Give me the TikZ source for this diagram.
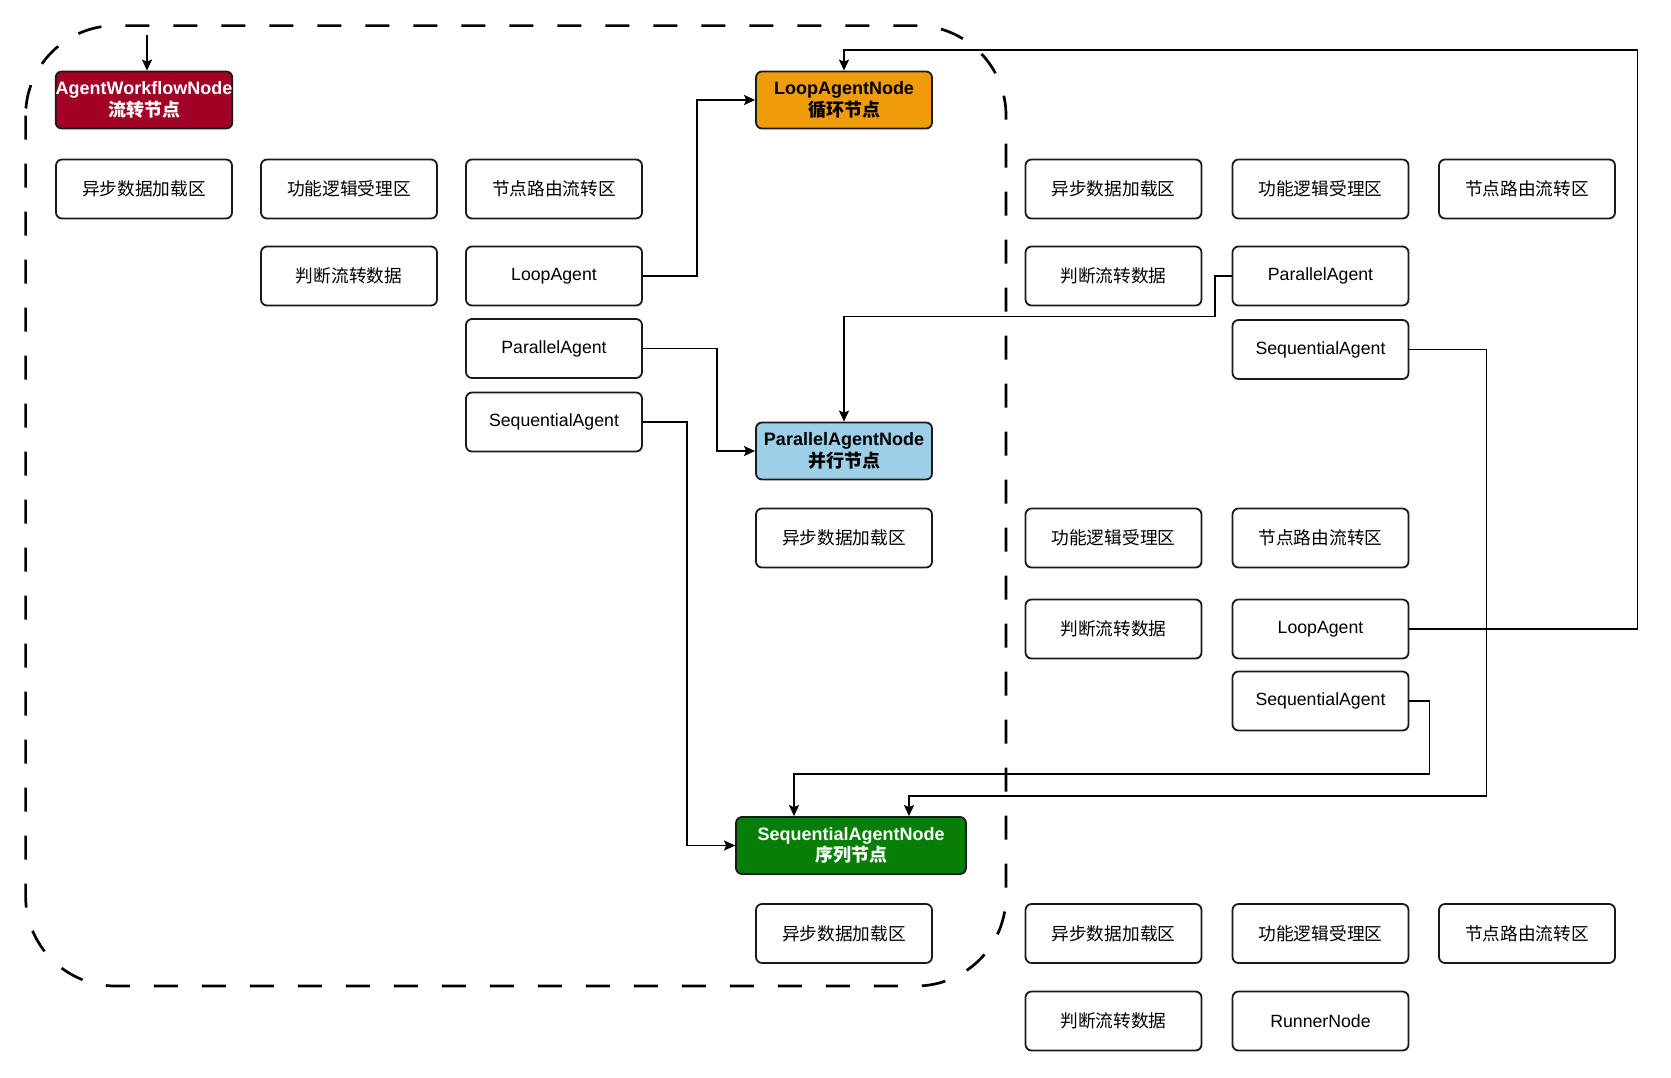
\documentclass[tikz,border=0pt]{standalone}
\usepackage{fontspec}
\setmainfont{Liberation Sans}
\newfontfamily\cjk{Noto Sans CJK SC}
\usetikzlibrary{arrows.meta}
\definecolor{redf}{HTML}{A20025}
\definecolor{orangef}{HTML}{F09B0A}
\definecolor{bluef}{HTML}{9ECFE8}
\definecolor{greenf}{HTML}{077F07}
\definecolor{edge}{HTML}{1A1A1A}
\begin{document}
\begin{tikzpicture}[x=1pt,y=-1pt,
  box/.style={draw=edge, line width=1.8pt, rounded corners=6pt, minimum width=176pt, minimum height=59pt, inner sep=0pt, align=center, font=\fontsize{17.7}{21}\selectfont},
  title/.style={box, minimum height=57pt, font=\bfseries\fontsize{18}{21.3}\selectfont},
  arr/.style={draw=black, line width=1.8pt, -{Stealth[length=11pt,width=10pt,inset=2pt]}},
  container/.style={draw=black, line width=2.7pt, rounded corners=90pt, dash pattern=on 24pt off 24pt}]
\useasboundingbox (0,0) rectangle (1671,1077);
\draw[container] (25.6,25.6) rectangle (1006,986);

% left group
\node[title, fill=redf, text=white] (awn) at (144,100) {AgentWorkflowNode\\{\cjk\bfseries 流转节点}};
\node[box] (l1a) at (144,189) {\cjk 异步数据加载区};
\node[box] (l1b) at (349,189) {\cjk 功能逻辑受理区};
\node[box] (l1c) at (554,189) {\cjk 节点路由流转区};
\node[box] (l2b) at (349,276) {\cjk 判断流转数据};
\node[box] (c3loop) at (554,276) {LoopAgent};
\node[box] (c3par) at (554,348.5) {ParallelAgent};
\node[box] (c3seq) at (554,422) {SequentialAgent};

% colored nodes
\node[title, fill=orangef, text=black] (loopnode) at (844,100) {LoopAgentNode\\{\cjk\bfseries 循环节点}};
\node[title, fill=bluef, text=black] (parnode) at (844,451) {ParallelAgentNode\\{\cjk\bfseries 并行节点}};
\node[box] (pard) at (844,538) {\cjk 异步数据加载区};
\node[title, fill=greenf, text=white, minimum width=230pt] (seqnode) at (851,845.5) {SequentialAgentNode\\{\cjk\bfseries 序列节点}};
\node[box] (seqd) at (844,933.5) {\cjk 异步数据加载区};

% right group: loop node parts
\node[box] (rA5) at (1113.5,189) {\cjk 异步数据加载区};
\node[box] (rA6) at (1320.5,189) {\cjk 功能逻辑受理区};
\node[box] (rA7) at (1527,189) {\cjk 节点路由流转区};
\node[box] (rB5) at (1113.5,276) {\cjk 判断流转数据};
\node[box] (r6par) at (1320.5,276) {ParallelAgent};
\node[box] (r6seqC) at (1320.5,349.5) {SequentialAgent};

% right group: parallel node parts
\node[box] (rD5) at (1113.5,538) {\cjk 功能逻辑受理区};
\node[box] (rD6) at (1320.5,538) {\cjk 节点路由流转区};
\node[box] (rE5) at (1113.5,629) {\cjk 判断流转数据};
\node[box] (r6loop) at (1320.5,629) {LoopAgent};
\node[box] (r6seqF) at (1320.5,701) {SequentialAgent};

% right group: sequential node parts
\node[box] (rG5) at (1113.5,933.5) {\cjk 异步数据加载区};
\node[box] (rG6) at (1320.5,933.5) {\cjk 功能逻辑受理区};
\node[box] (rG7) at (1527,933.5) {\cjk 节点路由流转区};
\node[box] (rH5) at (1113.5,1021) {\cjk 判断流转数据};
\node[box] (rH6) at (1320.5,1021) {RunnerNode};

% connectors
\coordinate (start) at (147,35);
\draw[arr] (start) -- (start |- awn.north);
\draw[arr] (c3loop.east) -- ++(54,0) |- (loopnode.west);
\draw[arr] (c3par.east) -- ++(74,0) |- (parnode.west);
\draw[arr] (c3seq.east) -- ++(44,0) |- (seqnode.west);
\draw[arr] (r6par.west) -- ++(-17,0) -- ++(0,40.5) -| (parnode.north);
\draw[arr] (r6seqC.east) -- ++(77,0) -- ++(0,446.5) -| ([xshift=58pt]seqnode.north);
\draw[arr] (r6loop.east) -- ++(228,0) -- ++(0,-579) -| (loopnode.north);
\draw[arr] (r6seqF.east) -- ++(20,0) -- ++(0,72.7) -| ([xshift=-57pt]seqnode.north);
\end{tikzpicture}
\end{document}
